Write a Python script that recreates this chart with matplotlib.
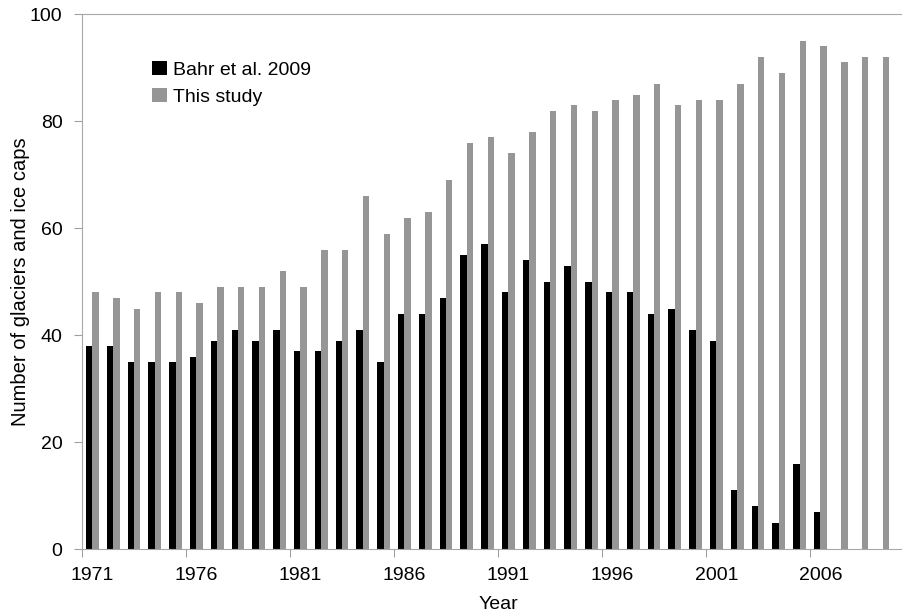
import matplotlib
matplotlib.use('Agg')
import matplotlib.pyplot as plt
import numpy as np

plt.rcParams['font.family'] = ['Liberation Sans', 'DejaVu Sans']

# data
years = list(range(1971, 2010))
bahr = [38, 38, 35, 35, 35, 36, 39, 41, 39, 41,
        37, 37, 39, 41, 35, 44, 44, 47, 55, 57,
        48, 54, 50, 53, 50, 48, 48, 44, 45, 41,
        39, 11, 8, 5, 16, 7]
this_study = [48, 47, 45, 48, 48, 46, 49, 49, 49, 52,
              49, 56, 56, 66, 59, 62, 63, 69, 76, 77,
              74, 78, 82, 83, 82, 84, 85, 87, 83, 84,
              84, 87, 92, 89, 95, 94, 91, 92, 92]
label_years = [1971, 1976, 1981, 1986, 1991, 1996, 2001, 2006]

W, H = 903, 616
fig = plt.figure(figsize=(W / 100, H / 100), dpi=100)
left, right, bottom, top = 82, 914, 549.3, 14.3
ax = fig.add_axes([left / W, 1 - bottom / H, (right - left) / W, (bottom - top) / H])

width = 0.31
x_b = np.arange(len(bahr)) + 0.5
x_t = np.arange(len(this_study)) + 0.5
ax.bar(x_b - width / 2, bahr, width, color='black', label='Bahr et al. 2009')
ax.bar(x_t + width / 2, this_study, width, color='#969696', label='This study')

ax.set_xlim(0, 40)
ax.set_ylim(0, 100)
ax.set_yticks(range(0, 101, 20))

ax.set_xticks(np.arange(0, 41, 5))
ax.set_xticklabels([])
ax.set_xticks([years.index(y) + 0.5 for y in label_years], minor=True)
ax.set_xticklabels([str(y) for y in label_years], minor=True)
ax.tick_params(axis='x', which='minor', length=0, pad=13, labelsize=14)
ax.tick_params(axis='x', which='major', length=6, color='#a0a0a0')
ax.tick_params(axis='y', length=6, color='#a0a0a0', pad=8, labelsize=14)

for s in ['left', 'bottom', 'top']:
    ax.spines[s].set_color('#a8a8a8')
ax.spines['right'].set_visible(False)

ax.set_xlabel('Year', fontsize=14)
ax.xaxis.set_label_coords(0.5, -0.088)
ax.set_ylabel('Number of glaciers and ice caps', fontsize=14.5)
ax.yaxis.set_label_coords(-0.063, 0.5)

ax.legend(loc='upper left', bbox_to_anchor=(0.075, 0.927), frameon=False,
          fontsize=14, handlelength=0.75, handleheight=0.75,
          handletextpad=0.3, labelspacing=0.45, borderaxespad=0)

fig.savefig('out.png', dpi=100)
